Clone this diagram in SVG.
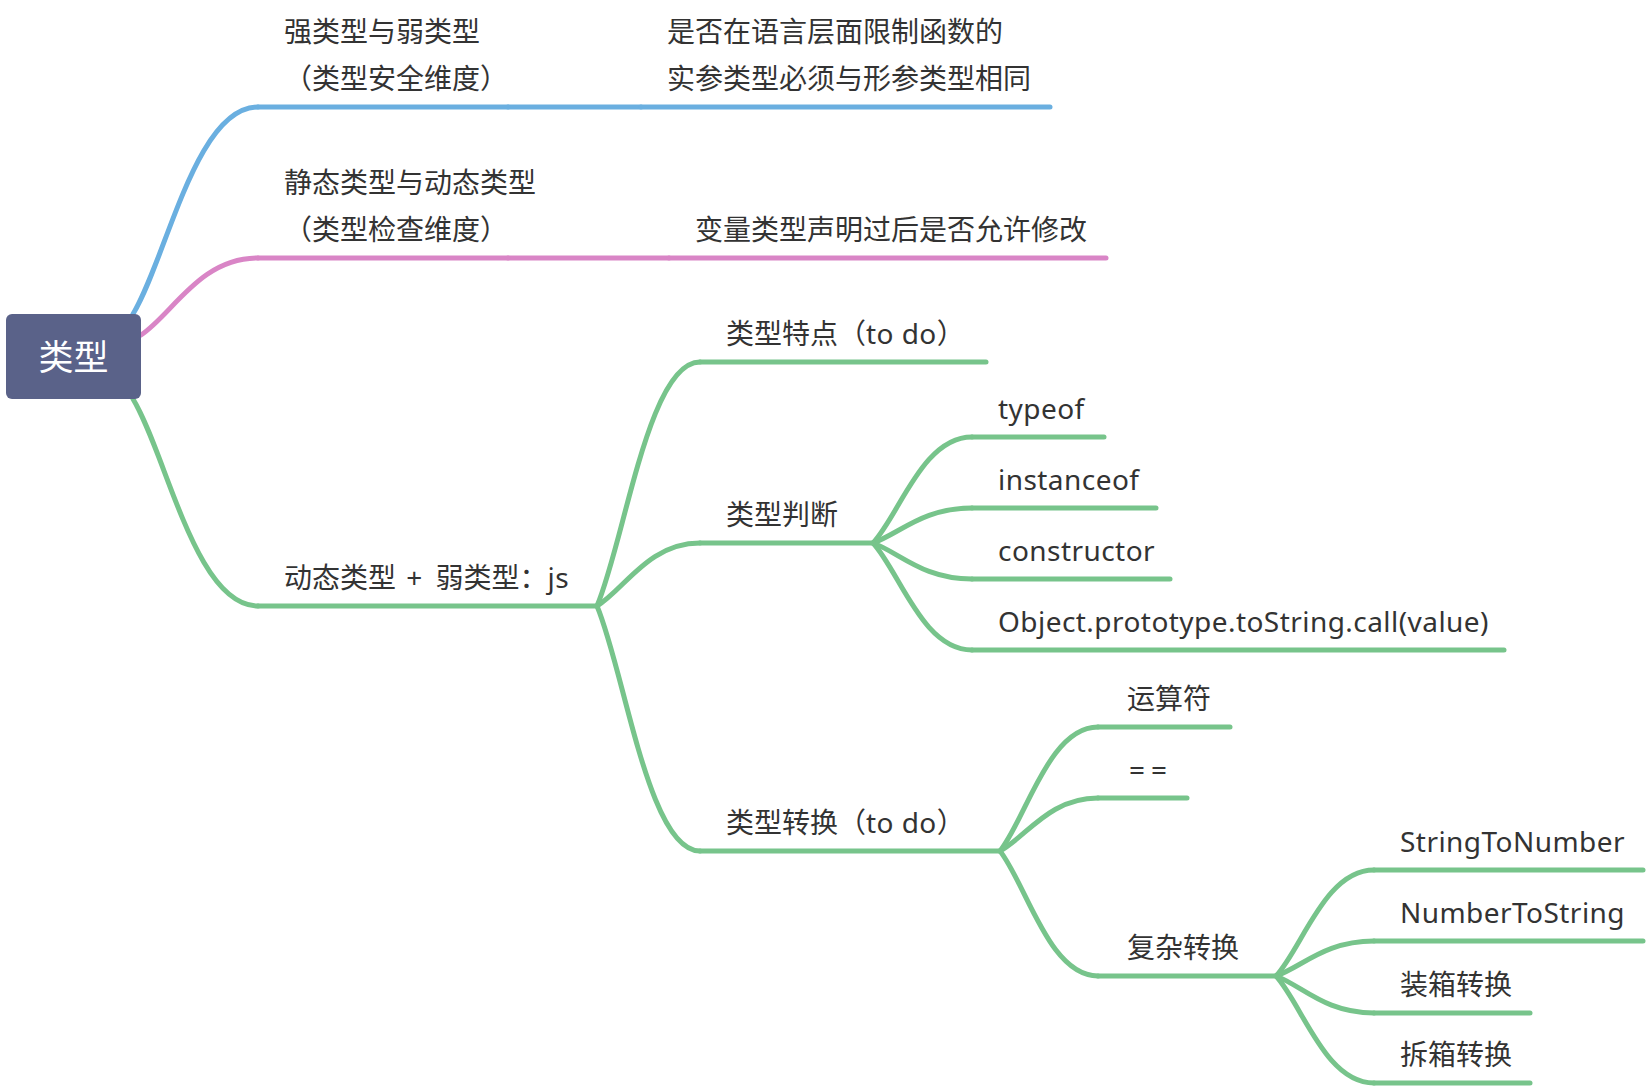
<svg xmlns="http://www.w3.org/2000/svg" width="1648" height="1088" viewBox="0 0 1648 1088">
  <style>
    .t { font-family: "Noto Sans", "Noto Sans CJK SC", sans-serif; font-size: 28px; fill: #333333; }
    .lat { letter-spacing: 0.45px; }
    .root { font-family: "Noto Sans CJK SC", "Noto Sans", sans-serif; font-size: 35px; fill: #ffffff; text-anchor: middle; }
    .ln { fill: none; stroke-width: 5; stroke-linecap: round; }
    .blue { stroke: #6aafe0; }
    .pink { stroke: #d985c6; }
    .green { stroke: #77c48b; }
  </style>
  <rect width="1648" height="1088" fill="#ffffff"/>

  <g id="connectors">
    <path class="ln blue" d="M133 314 C166.75 258.1 195.5 107 258 107"/>
    <path class="ln blue" d="M508 107 H641"/>
    <path class="ln pink" d="M141 335 C172.6 314.2 199.5 258 258 258"/>
    <path class="ln pink" d="M508 258 H669"/>
    <path class="ln green" d="M133 399 C166.75 454.9 195.5 606 258 606"/>

    <path class="ln green" d="M597 606 C624.8 540.1 648.5 362 700 362"/>
    <path class="ln green" d="M597 606 C624.8 589 648.5 543 700 543"/>
    <path class="ln green" d="M597 606 C624.8 672.2 648.5 851 700 851"/>

    <path class="ln green" d="M873 543 C899.7 514.4 922.5 437 972 437"/>
    <path class="ln green" d="M873 543 C899.7 533.6 922.5 508 972 508"/>
    <path class="ln green" d="M873 543 C899.7 552.7 922.5 579 972 579"/>
    <path class="ln green" d="M873 543 C899.7 571.9 922.5 650 972 650"/>

    <path class="ln green" d="M1000 851 C1026.5 817.5 1049 727 1098 727"/>
    <path class="ln green" d="M1000 851 C1026.5 836.7 1049 798 1098 798"/>
    <path class="ln green" d="M1000 851 C1026.5 884.8 1049 976 1098 976"/>

    <path class="ln green" d="M1276 976 C1302.5 947.4 1325 870 1374 870"/>
    <path class="ln green" d="M1276 976 C1302.5 966.6 1325 941 1374 941"/>
    <path class="ln green" d="M1276 976 C1302.5 986 1325 1013 1374 1013"/>
    <path class="ln green" d="M1276 976 C1302.5 1004.9 1325 1083 1374 1083"/>
  </g>

  <g id="node-root">
    <rect x="6" y="314" width="135" height="85" rx="6" fill="#5a6289"/>
    <text class="root" x="73.5" y="370">类型</text>
  </g>

  <g id="node-strong-weak">
    <path class="ln blue" d="M258 107 H508"/>
    <text class="t" x="284" y="42">强类型与弱类型</text>
    <text class="t" x="284" y="89">（类型安全维度）</text>
  </g>
  <g id="node-strong-weak-desc">
    <path class="ln blue" d="M641 107 H1050"/>
    <text class="t" x="667" y="42">是否在语言层面限制函数的</text>
    <text class="t" x="667" y="89">实参类型必须与形参类型相同</text>
  </g>

  <g id="node-static-dynamic">
    <path class="ln pink" d="M258 258 H508"/>
    <text class="t" x="284" y="193">静态类型与动态类型</text>
    <text class="t" x="284" y="240">（类型检查维度）</text>
  </g>
  <g id="node-static-dynamic-desc">
    <path class="ln pink" d="M669 258 H1106"/>
    <text class="t" x="695" y="240">变量类型声明过后是否允许修改</text>
  </g>

  <g id="node-js">
    <path class="ln green" d="M258 606 H597"/>
    <text class="t" x="284" y="588">动态类型 <tspan dx="3">+</tspan><tspan dx="6"> 弱类型：</tspan><tspan class="lat">js</tspan></text>
  </g>

  <g id="node-features">
    <path class="ln green" d="M700 362 H986"/>
    <text class="t" x="726" y="344">类型特点（<tspan class="lat">to do</tspan>）</text>
  </g>
  <g id="node-judge">
    <path class="ln green" d="M700 543 H873"/>
    <text class="t" x="726" y="525">类型判断</text>
  </g>
  <g id="node-convert">
    <path class="ln green" d="M700 851 H1000"/>
    <text class="t" x="726" y="833">类型转换（<tspan class="lat">to do</tspan>）</text>
  </g>

  <g id="node-typeof">
    <path class="ln green" d="M972 437 H1104"/>
    <text class="t lat" x="998" y="419">typeof</text>
  </g>
  <g id="node-instanceof">
    <path class="ln green" d="M972 508 H1156"/>
    <text class="t lat" x="998" y="490">instanceof</text>
  </g>
  <g id="node-constructor">
    <path class="ln green" d="M972 579 H1170"/>
    <text class="t lat" x="998" y="561">constructor</text>
  </g>
  <g id="node-tostring">
    <path class="ln green" d="M972 650 H1504"/>
    <text class="t lat" x="998" y="632">Object.prototype.toString.call(value)</text>
  </g>

  <g id="node-operator">
    <path class="ln green" d="M1098 727 H1230"/>
    <text class="t" x="1127" y="709">运算符</text>
  </g>
  <g id="node-eq">
    <path class="ln green" d="M1098 798 H1187"/>
    <text class="t" x="1129" y="780" letter-spacing="6">==</text>
  </g>
  <g id="node-complex">
    <path class="ln green" d="M1098 976 H1276"/>
    <text class="t" x="1127" y="958">复杂转换</text>
  </g>

  <g id="node-s2n">
    <path class="ln green" d="M1374 870 H1643"/>
    <text class="t lat" x="1400" y="852">StringToNumber</text>
  </g>
  <g id="node-n2s">
    <path class="ln green" d="M1374 941 H1643"/>
    <text class="t lat" x="1400" y="923">NumberToString</text>
  </g>
  <g id="node-boxing">
    <path class="ln green" d="M1374 1013 H1530"/>
    <text class="t" x="1400" y="995">装箱转换</text>
  </g>
  <g id="node-unboxing">
    <path class="ln green" d="M1374 1083 H1530"/>
    <text class="t" x="1400" y="1065">拆箱转换</text>
  </g>
</svg>
